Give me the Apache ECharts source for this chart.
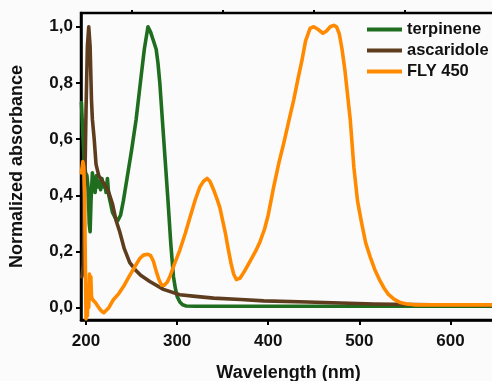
<!DOCTYPE html>
<html>
<head>
<meta charset="utf-8">
<script src="https://cdn.jsdelivr.net/npm/echarts@6/dist/echarts.min.js"></script>
<style>
html,body{margin:0;padding:0;background:#fbfbfb;}
#chart{width:492px;height:381px;}
</style>
</head>
<body>
<div id="chart"></div>
<script>
// ---- data ----
const seriesNames = ['terpinene', 'ascaridole', 'FLY 450'];

const terpWl = [195, 196.5, 198, 199.5, 201, 202.5, 203.5, 204.5, 205.5, 207, 208.5, 210, 211.5, 213, 214.5, 216, 217.5, 219, 220.5, 222, 223.5, 225, 227, 229, 232, 235, 238, 241, 245, 250, 255, 260, 264, 268, 271, 274, 277, 279, 281, 284, 287, 290, 293, 296, 298, 300, 303, 306, 310, 320, 350, 400, 450, 500, 550, 600, 650];
const terpAbs = [0.73, 0.62, 0.52, 0.48, 0.47, 0.42, 0.30, 0.27, 0.38, 0.48, 0.44, 0.41, 0.47, 0.43, 0.45, 0.42, 0.46, 0.43, 0.44, 0.41, 0.46, 0.40, 0.37, 0.34, 0.32, 0.31, 0.33, 0.38, 0.46, 0.56, 0.67, 0.81, 0.92, 1.0, 0.98, 0.95, 0.92, 0.87, 0.80, 0.66, 0.52, 0.38, 0.23, 0.11, 0.07, 0.04, 0.02, 0.01, 0.006, 0.005, 0.005, 0.005, 0.005, 0.005, 0.005, 0.005, 0.005];

const ascWl = [195.5, 197, 198.5, 200, 201.5, 203, 204.5, 206, 207, 209, 211, 214, 218, 222, 225, 229, 233, 237, 242, 248, 254, 260, 270, 285, 303, 320, 340, 370, 395, 443, 516, 580, 650];
const ascAbs = [0.11, 0.15, 0.40, 0.70, 0.93, 1.0, 0.93, 0.74, 0.67, 0.60, 0.51, 0.47, 0.45, 0.43, 0.41, 0.37, 0.31, 0.27, 0.21, 0.16, 0.135, 0.115, 0.093, 0.065, 0.046, 0.04, 0.034, 0.029, 0.024, 0.02, 0.013, 0.01, 0.008];

const flyWl = [195, 196.5, 197.5, 198.5, 199.3, 200, 200.8, 201.5, 202.3, 203, 203.8, 204.5, 205.3, 206, 207, 209, 211, 214, 217, 219.5, 222, 225, 230, 236, 242, 248, 254, 259, 263, 268, 271, 274, 277, 280, 283, 286, 289, 292, 297, 303, 309, 314, 320, 325, 329, 333, 336, 340, 344, 347, 350, 353, 356, 359, 362, 365, 369, 374, 380, 386, 391, 396, 400, 406, 412, 417, 423, 428, 433, 437, 441, 446, 450, 455, 460, 464, 468, 472, 475, 478, 481, 484, 487, 490, 494, 498, 502, 507, 512, 517, 522, 527, 532, 538, 545, 552, 560, 580, 610, 650];
const flyAbs = [0.48, 0.52, 0.50, 0.40, 0.15, -0.04, 0.05, -0.03, 0.08, 0.0, 0.12, 0.03, 0.11, 0.04, 0.03, 0.025, 0.015, 0.0, -0.012, -0.018, -0.01, 0.0, 0.028, 0.05, 0.08, 0.115, 0.148, 0.175, 0.187, 0.19, 0.185, 0.165, 0.13, 0.1, 0.08, 0.08, 0.09, 0.11, 0.155, 0.205, 0.265, 0.32, 0.385, 0.43, 0.45, 0.46, 0.45, 0.42, 0.385, 0.355, 0.31, 0.265, 0.21, 0.16, 0.12, 0.1, 0.105, 0.13, 0.165, 0.2, 0.235, 0.28, 0.33, 0.43, 0.52, 0.585, 0.67, 0.74, 0.82, 0.88, 0.95, 0.995, 1.0, 0.99, 0.977, 0.985, 1.0, 1.005, 1.0, 0.975, 0.92, 0.85, 0.76, 0.67, 0.5, 0.38, 0.31, 0.23, 0.18, 0.135, 0.1, 0.07, 0.047, 0.03, 0.018, 0.013, 0.01, 0.01, 0.01, 0.01];

const xMajorTicks = [200, 300, 400, 500, 600];
const xMinorTicks = [250, 350, 450, 550, 650];
const yMajorTicks = [0, 0.2, 0.4, 0.6, 0.8, 1.0];
const yMinorTicks = [0.1, 0.3, 0.5, 0.7, 0.9];

const colors = ['#1f6e1f', '#5e3c1e', '#ff8a00'];

// ---- chart ----
const zip = (a, b) => a.map((v, i) => [v, b[i]]);
const font = '"Liberation Sans", Arial, sans-serif';
const X_MIN = 194.5, X_MAX = 650, Y_MIN = -0.044, Y_MAX = 1.049;

const chart = echarts.init(document.getElementById('chart'), null, {renderer: 'canvas'});

const baseX = {
  type: 'value', min: X_MIN, max: X_MAX, splitLine: {show: false}
};
const baseY = {
  type: 'value', min: Y_MIN, max: Y_MAX, splitLine: {show: false}
};

chart.setOption({
  backgroundColor: '#fbfbfb',
  animation: false,
  grid: {left: 81, top: 13, right: -4, bottom: 61, outerBoundsMode: 'none', containLabel: false,
    show: true, borderColor: '#000', borderWidth: 2.5, backgroundColor: 'transparent'},
  legend: {
    data: seriesNames,
    orient: 'vertical',
    left: 367, top: 21, padding: 0,
    itemWidth: 35, itemHeight: 4, itemGap: 4,
    icon: 'rect',
    textStyle: {fontFamily: font, fontWeight: 'bold', fontSize: 16.5, color: '#111'}
  },
  xAxis: [
    Object.assign({}, baseX, {
      axisLine: {show: true, onZero: false, lineStyle: {color: '#000', width: 2.5}},
      axisTick: {show: true, inside: false, length: 5, lineStyle: {width: 2, color: '#000'}, customValues: xMajorTicks},
      axisLabel: {customValues: xMajorTicks, margin: 13, fontFamily: font, fontWeight: 'bold', fontSize: 17, color: '#111'},
      name: 'Wavelength (nm)', nameLocation: 'middle', nameGap: 44,
      nameTextStyle: {fontFamily: font, fontWeight: 'bold', fontSize: 18, color: '#111'}
    }),
    Object.assign({}, baseX, {
      axisLine: {show: false, onZero: false},
      axisTick: {show: true, inside: false, length: 3, lineStyle: {width: 2, color: '#000'}, customValues: xMinorTicks},
      axisLabel: {show: false}
    })
  ],
  yAxis: [
    Object.assign({}, baseY, {
      axisLine: {show: true, onZero: false, lineStyle: {color: '#000', width: 2.5}},
      axisTick: {show: true, inside: false, length: 5, lineStyle: {width: 2, color: '#000'}, customValues: yMajorTicks},
      axisLabel: {customValues: yMajorTicks, margin: 8, fontFamily: font, fontWeight: 'bold', fontSize: 17, color: '#111',
        formatter: v => v.toFixed(1).replace('.', ',')},
      name: 'Normalized absorbance', nameLocation: 'middle', nameGap: 55,
      nameTextStyle: {fontFamily: font, fontWeight: 'bold', fontSize: 18, color: '#111'}
    }),
    Object.assign({}, baseY, {
      axisLine: {show: false, onZero: false},
      axisTick: {show: true, inside: false, length: 3, lineStyle: {width: 2, color: '#000'}, customValues: yMinorTicks},
      axisLabel: {show: false}
    })
  ],
  series: [
    {name: seriesNames[0], type: 'line', data: zip(terpWl, terpAbs), color: colors[0]},
    {name: seriesNames[1], type: 'line', data: zip(ascWl, ascAbs), color: colors[1]},
    {name: seriesNames[2], type: 'line', data: zip(flyWl, flyAbs), color: colors[2]}
  ].map(s => Object.assign(s, {
    symbol: 'none', smooth: false, clip: true,
    lineStyle: {width: 3.6, color: s.color, cap: 'round', join: 'round'}
  }))
});
</script>
</body>
</html>
